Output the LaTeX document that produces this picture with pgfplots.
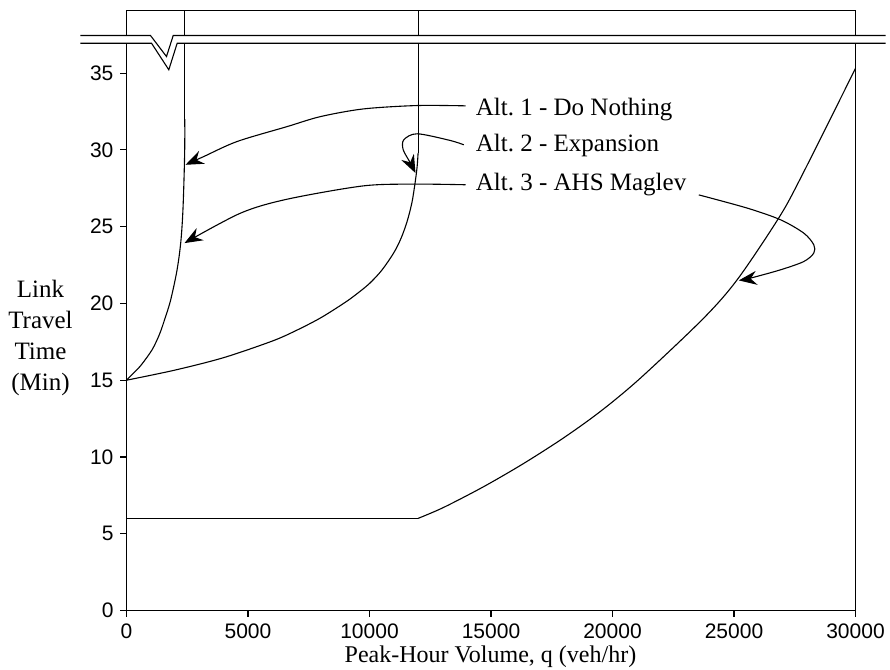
\documentclass[border=0pt]{standalone}
\usepackage{fontspec}
\setmainfont{Liberation Serif}
\newfontfamily\arialfont{Liberation Sans}
\usepackage{pgfplots}
\pgfplotsset{compat=1.18}
\usetikzlibrary{arrows.meta}

\tikzset{leader/.style={smooth, black, line width=0.55pt,
  -{Stealth[length=9pt,width=7pt,inset=3pt]}}}

\begin{document}
\frenchspacing
\begin{tikzpicture}[x=1pt,y=1pt]
\useasboundingbox (-63.25,-29.75) rectangle (381.75,305.25);
\begin{axis}[
  at={(0,0)}, anchor=south west,
  width=364.5pt, height=300pt, scale only axis,
  xmin=0, xmax=30000, ymin=0, ymax=39.08,
  xtick={0,5000,...,30000}, ytick={0,5,...,35},
  tick align=outside, xtick pos=left, ytick pos=left,
  major tick length=3pt,
  scaled x ticks=false,
  /pgf/number format/1000 sep={},
  /pgf/number format/assume math mode=true,
  tick label style={font=\arialfont\fontsize{10.5}{12}\selectfont},
  axis line style={line width=0.55pt},
  major tick style={line width=0.55pt, black},
  cycle list={{black, no markers}},
  every axis plot/.append style={line width=0.55pt, black, no markers},
  clip mode=individual,
]
% Alt. 1 - Do Nothing (capacity 2400 veh/hr)
\addplot[smooth, tension=0.5] coordinates {
  (0,15) (300,15.48) (610,16) (1060,17) (1360,18) (1580,19) (1780,20) (1930,21)
  (2060,22) (2160,23) (2235,24) (2285,25) (2320,26) (2345,27) (2365,28)
  (2382,29) (2395,30) (2400,31) (2400,32)};
\addplot[black] coordinates {(2400,31.5) (2400,41)};
% Alt. 2 - Expansion (capacity 12000 veh/hr)
\addplot[smooth, tension=0.5] coordinates {
  (0,15) (2000,15.66) (4000,16.47) (6000,17.55) (7000,18.25) (8000,19.07)
  (9000,20.07) (9500,20.65) (10000,21.3) (10500,22.15) (11000,23.3)
  (11300,24.25) (11550,25.35) (11750,26.6) (11880,27.9) (11960,28.9)
  (12000,29.8)};
\addplot[black] coordinates {(12000,29.8) (12000,41)};
% Alt. 3 - AHS Maglev
\addplot[black] coordinates {(0,6) (12000,6)};
\addplot[smooth, tension=0.5] coordinates {
  (12000,6) (13045,6.71) (14691,8.06) (16337,9.57) (17984,11.24)
  (19506,12.97) (21152,15.14) (23745,19.03) (25144,21.57) (26831,25.54)
  (27737,28.15) (30000,35.31)};

% leader arrows from the labels
\addplot[leader] coordinates {
  (13951,32.87) (11963,32.89) (9753,32.67) (7984,32.17) (6613,31.52)
  (4556,30.55) (3182,29.57) (2428,29.03)};
\addplot[leader] coordinates {
  (13881,30.33) (13333,30.61) (11963,31.05) (11412,30.66) (11387,30.01)
  (11687,29.14) (11893,28.49)};
\addplot[leader] coordinates {
  (13951,27.73) (11963,27.77) (9765,27.66) (6613,26.79) (4691,25.88)
  (2387,23.93)};
\addplot[leader] coordinates {
  (23551,27.07) (25543,26.21) (26914,25.45) (27872,24.58) (28284,23.82)
  (28284,23.28) (27872,22.73) (26914,22.19) (25679,21.65) (25198,21.5)};

\begin{scope}[font=\fontsize{12.5}{15}\selectfont]
\node[anchor=base west, inner sep=0pt] at (axis cs:14362,32.21) {Alt. 1 - Do Nothing};
\node[anchor=base west, inner sep=0pt] at (axis cs:14362,29.89) {Alt. 2 - Expansion};
\node[anchor=base west, inner sep=0pt] at (axis cs:14362,27.34) {Alt. 3 - AHS Maglev};
\node[anchor=base, inner sep=0pt, font=\fontsize{12}{14}\selectfont]
  at (axis cs:14979,-3.38) {Peak-Hour Volume, q (veh/hr)};
\node[align=center, font=\fontsize{12.5}{15.5}\selectfont] at (axis cs:-3539,17.76)
  {Link\\Travel\\Time\\(Min)};
\end{scope}

% scale break across the upper part of the axis
\fill[white] (axis cs:-1893,37.45) -- (axis cs:988,37.45) -- (axis cs:1646,36.08)
  -- (axis cs:1922,37.45) -- (axis cs:31235,37.45) -- (axis cs:31235,36.95)
  -- (axis cs:2086,36.95) -- (axis cs:1741,35.22) -- (axis cs:1029,36.95)
  -- (axis cs:-1893,36.95) -- cycle;
\draw[line width=0.55pt] (axis cs:-1893,37.45) -- (axis cs:988,37.45)
  -- (axis cs:1646,36.08) -- (axis cs:1922,37.45) -- (axis cs:31235,37.45);
\draw[line width=0.55pt] (axis cs:-1893,36.95) -- (axis cs:1029,36.95)
  -- (axis cs:1741,35.22) -- (axis cs:2086,36.95) -- (axis cs:31235,36.95);
\end{axis}
\end{tikzpicture}
\end{document}
